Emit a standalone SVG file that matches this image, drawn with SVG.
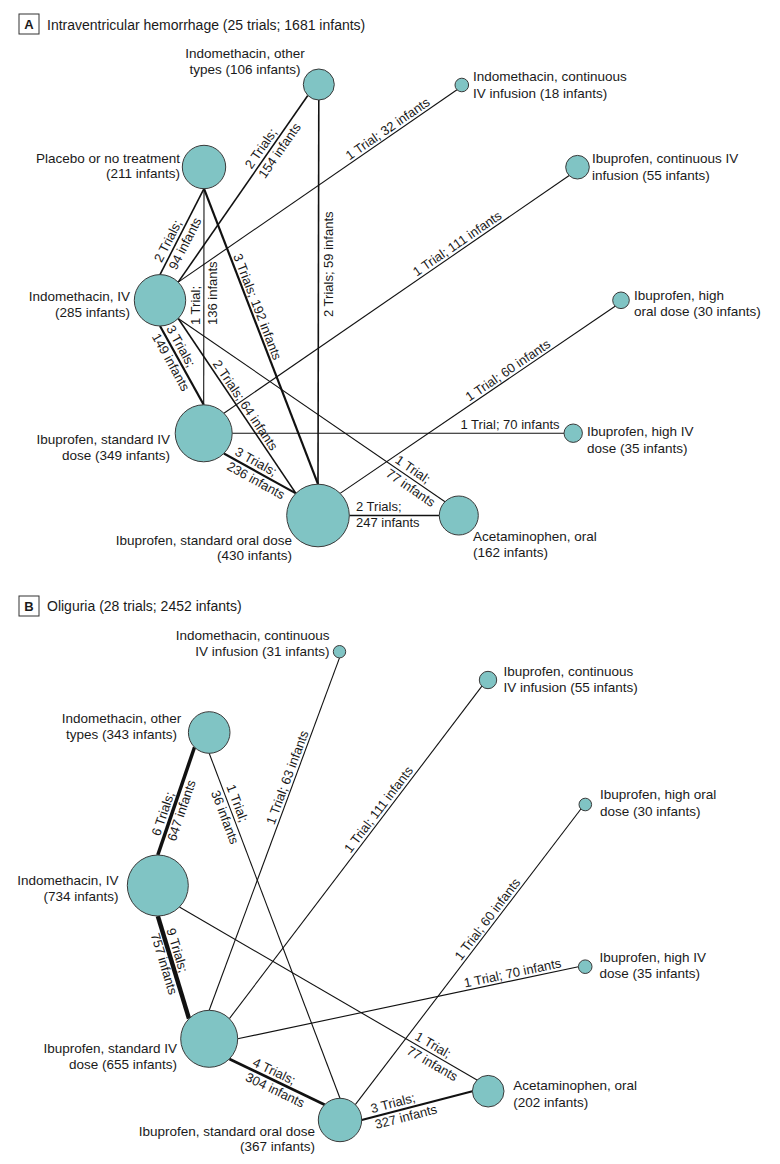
<svg xmlns="http://www.w3.org/2000/svg" width="780" height="1164" viewBox="0 0 780 1164">
<style>
text{font-family:"Liberation Sans",Arial,sans-serif;fill:#1a1a1a}
.t{font-size:14px}
.n{font-size:13.5px}
.e{font-size:13px}
.m{text-anchor:middle}
.en{text-anchor:end}
.box{fill:#fff;stroke:#333;stroke-width:1}
.bl{font-size:13px;font-weight:bold;text-anchor:middle}
circle{fill:#80c4c4;stroke:#3a3a3a;stroke-width:1}
line{stroke:#111;fill:none}
.w1{stroke-width:1.1}
.w2{stroke-width:1.6}
.w3{stroke-width:2.2}
.w4{stroke-width:2.8}
.w6{stroke-width:3.5}
.w9{stroke-width:4.4}
</style>
<rect width="780" height="1164" fill="#fff"/>

<g id="titleA">
<rect class="box" x="19" y="14" width="20" height="20"/>
<text class="bl" x="29" y="29">A</text>
<text class="t" x="47" y="29.5">Intraventricular hemorrhage (25 trials; 1681 infants)</text>
</g>
<g id="titleB">
<rect class="box" x="19" y="596" width="20" height="20"/>
<text class="bl" x="29" y="611">B</text>
<text class="t" x="47" y="611">Oliguria (28 trials; 2452 infants)</text>
</g>

<g id="connectorsA">
<line class="w2" x1="307.8" y1="95.5" x2="178.2" y2="282.1"/>
<line class="w2" x1="318.8" y1="100" x2="318" y2="484.2"/>
<line class="w1" x1="457" y1="89.8" x2="178.2" y2="282.1"/>
<line class="w1" x1="569.2" y1="175.5" x2="223.9" y2="413.2"/>
<line class="w1" x1="615.1" y1="306.2" x2="340.1" y2="493.4"/>
<line class="w2" x1="204" y1="188.7" x2="160" y2="274.6"/>
<line class="w1" x1="204" y1="188.7" x2="203.7" y2="404.8"/>
<line class="w3" x1="204" y1="188.7" x2="318" y2="484.2"/>
<line class="w3" x1="160" y1="326" x2="203.7" y2="404.8"/>
<line class="w2" x1="178.2" y1="318.5" x2="295.9" y2="493.4"/>
<line class="w1" x1="178.2" y1="318.5" x2="445" y2="501.7"/>
<line class="w1" x1="232.2" y1="433.3" x2="564" y2="433.2"/>
<line class="w3" x1="223.9" y1="453.5" x2="295.9" y2="493.4"/>
<line class="w2" x1="349.3" y1="515.5" x2="439.3" y2="515.5"/>
</g>

<g id="edgeLabelsA" class="e">
<g transform="translate(254.8,172) rotate(-55.2)"><text y="-4">2 Trials;</text><text y="12.5">154 infants</text></g>
<g transform="translate(318.5,317) rotate(-90)"><text y="14">2 Trials; 59 infants</text></g>
<g transform="translate(391.9,134.8) rotate(-34.6)"><text class="m" y="-3">1 Trial; 32 infants</text></g>
<g transform="translate(461.4,249.7) rotate(-34.5)"><text class="m" y="-3">1 Trial; 111 infants</text></g>
<g transform="translate(512,376.5) rotate(-34.2)"><text class="m" y="-3">1 Trial; 60 infants</text></g>
<g transform="translate(165,265) rotate(-62.9)"><text y="-4">2 Trials;</text><text y="12.5">94 infants</text></g>
<g transform="translate(204,325) rotate(-90)"><text y="-4">1 Trial;</text><text y="12.5">136 infants</text></g>
<g transform="translate(250.5,309.3) rotate(68.9)"><text class="m" y="-3">3 Trials; 192 infants</text></g>
<g transform="translate(162.4,330.4) rotate(61)"><text y="-4">3 Trials;</text><text y="12.5">149 infants</text></g>
<g transform="translate(239.3,409.3) rotate(56.1)"><text class="m" y="-3">2 Trials; 64 infants</text></g>
<g transform="translate(392,465.3) rotate(34.5)"><text y="-4">1 Trial;</text><text y="12.5">77 infants</text></g>
<g transform="translate(510,433.2)"><text class="m" y="-4">1 Trial; 70 infants</text></g>
<g transform="translate(232,458) rotate(29)"><text y="-4">3 Trials;</text><text y="12.5">236 infants</text></g>
<g transform="translate(356,515.5)"><text y="-4.5">2 Trials;</text><text y="11">247 infants</text></g>
</g>

<g id="A_indo_other"><circle cx="318.8" cy="84.5" r="15.5"/><text class="n m" x="245" y="58">Indomethacin, other</text><text class="n m" x="245" y="74">types (106 infants)</text></g>
<g id="A_placebo"><circle cx="204" cy="167" r="21.7"/><text class="n en" x="180" y="162.5">Placebo or no treatment</text><text class="n en" x="180" y="178">(211 infants)</text></g>
<g id="A_indo_cont"><circle cx="461.8" cy="85" r="6.8"/><text class="n" x="473" y="81">Indomethacin, continuous</text><text class="n" x="473" y="97.5">IV infusion (18 infants)</text></g>
<g id="A_ibu_cont"><circle cx="577.5" cy="167.2" r="11.8"/><text class="n" x="592" y="163">Ibuprofen, continuous IV</text><text class="n" x="592" y="179.5">infusion (55 infants)</text></g>
<g id="A_ibu_high_oral"><circle cx="621" cy="300.3" r="8.3"/><text class="n" x="634" y="299.5">Ibuprofen, high</text><text class="n" x="634" y="316">oral dose (30 infants)</text></g>
<g id="A_indo_iv"><circle cx="160" cy="300.3" r="25.7"/><text class="n en" x="130" y="301">Indomethacin, IV</text><text class="n en" x="130" y="316.5">(285 infants)</text></g>
<g id="A_ibu_std_iv"><circle cx="203.7" cy="433.3" r="28.5"/><text class="n en" x="170" y="444">Ibuprofen, standard IV</text><text class="n en" x="170" y="460">dose (349 infants)</text></g>
<g id="A_ibu_high_iv"><circle cx="573.2" cy="433.2" r="9.2"/><text class="n" x="587" y="436">Ibuprofen, high IV</text><text class="n" x="587" y="452.5">dose (35 infants)</text></g>
<g id="A_ibu_std_oral"><circle cx="318" cy="515.5" r="31.3"/><text class="n en" x="292" y="544.5">Ibuprofen, standard oral dose</text><text class="n en" x="292" y="560">(430 infants)</text></g>
<g id="A_acet"><circle cx="458.8" cy="515.5" r="19.5"/><text class="n" x="473" y="541">Acetaminophen, oral</text><text class="n" x="473" y="557">(162 infants)</text></g>

<g id="connectorsB">
<line class="w6" x1="194.5" y1="747.2" x2="157.8" y2="855"/>
<line class="w1" x1="209.2" y1="753.3" x2="340" y2="1098.3"/>
<line class="w1" x1="339.5" y1="657.9" x2="209.2" y2="1010.3"/>
<line class="w1" x1="481.9" y1="686.2" x2="229.4" y2="1018.6"/>
<line class="w1" x1="580.9" y1="809" x2="355.3" y2="1104.7"/>
<line class="w9" x1="157.8" y1="916" x2="189" y2="1018.6"/>
<line class="w1" x1="179.4" y1="907.1" x2="477" y2="1080"/>
<line class="w1" x1="237.7" y1="1038.8" x2="578.4" y2="966.7"/>
<line class="w4" x1="229.4" y1="1059" x2="324.7" y2="1104.7"/>
<line class="w3" x1="361.7" y1="1120" x2="472.4" y2="1091.2"/>
</g>

<g id="edgeLabelsB" class="e">
<g transform="translate(163.6,838) rotate(-71.2)"><text y="-4">6 Trials;</text><text y="12.5">647 infants</text></g>
<g transform="translate(222.5,788) rotate(69.2)"><text y="-4">1 Trial;</text><text y="12.5">36 infants</text></g>
<g transform="translate(294.3,780) rotate(-69.7)"><text class="m" y="-3">1 Trial; 63 infants</text></g>
<g transform="translate(384.5,814) rotate(-52.8)"><text class="m" y="-3">1 Trial; 111 infants</text></g>
<g transform="translate(493.3,923.7) rotate(-52.7)"><text class="m" y="-3">1 Trial; 60 infants</text></g>
<g transform="translate(162.5,931) rotate(73.1)"><text y="-4">9 Trials;</text><text y="12.5">757 infants</text></g>
<g transform="translate(412,1042.4) rotate(30.2)"><text y="-4">1 Trial;</text><text y="12.5">77 infants</text></g>
<g transform="translate(514,980.3) rotate(-11.95)"><text class="m" y="-3">1 Trial; 70 infants</text></g>
<g transform="translate(250,1069) rotate(25.6)"><text y="-4">4 Trials;</text><text y="12.5">304 infants</text></g>
<g transform="translate(373,1117) rotate(-14.6)"><text y="-4">3 Trials;</text><text y="12.5">327 infants</text></g>
</g>

<g id="B_indo_cont"><circle cx="339.5" cy="651.7" r="6.2"/><text class="n en" x="329.5" y="639.5">Indomethacin, continuous</text><text class="n en" x="329.5" y="656">IV infusion (31 infants)</text></g>
<g id="B_ibu_cont"><circle cx="488" cy="680" r="8.7"/><text class="n" x="503.5" y="675.7">Ibuprofen, continuous</text><text class="n" x="503.5" y="692.3">IV infusion (55 infants)</text></g>
<g id="B_indo_other"><circle cx="209.2" cy="732.5" r="20.8"/><text class="n m" x="121.5" y="722.7">Indomethacin, other</text><text class="n m" x="121.5" y="739">types (343 infants)</text></g>
<g id="B_ibu_high_oral"><circle cx="585.3" cy="804.5" r="6.3"/><text class="n" x="600" y="799.3">Ibuprofen, high oral</text><text class="n" x="600" y="815.7">dose (30 infants)</text></g>
<g id="B_indo_iv"><circle cx="157.8" cy="885.5" r="30.5"/><text class="n en" x="118.5" y="885">Indomethacin, IV</text><text class="n en" x="118.5" y="900.5">(734 infants)</text></g>
<g id="B_ibu_high_iv"><circle cx="585.2" cy="966.7" r="6.8"/><text class="n" x="599.5" y="961.7">Ibuprofen, high IV</text><text class="n" x="599.5" y="978.3">dose (35 infants)</text></g>
<g id="B_ibu_std_iv"><circle cx="209.2" cy="1038.8" r="28.5"/><text class="n en" x="177" y="1053.3">Ibuprofen, standard IV</text><text class="n en" x="177" y="1069">dose (655 infants)</text></g>
<g id="B_acet"><circle cx="488.2" cy="1091.2" r="15.8"/><text class="n" x="513.3" y="1090">Acetaminophen, oral</text><text class="n" x="513.3" y="1106.7">(202 infants)</text></g>
<g id="B_ibu_std_oral"><circle cx="340" cy="1120" r="21.7"/><text class="n en" x="315" y="1135.7">Ibuprofen, standard oral dose</text><text class="n en" x="315" y="1151">(367 infants)</text></g>
</svg>
